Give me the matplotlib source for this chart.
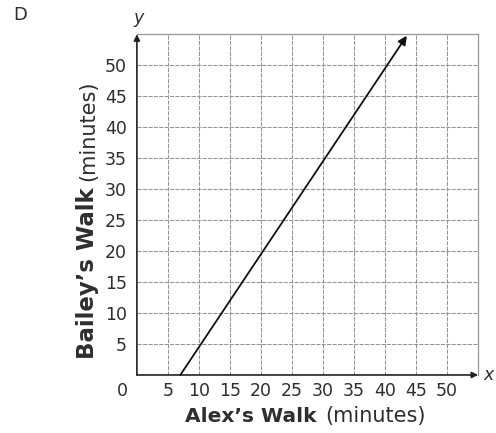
import matplotlib
matplotlib.use("Agg")
import matplotlib.pyplot as plt

# Data
line_x = [7, 43.5]          # Alex's walk (minutes)
line_y = [0, 54.75]         # Bailey's walk (minutes)
x_ticks = [5, 10, 15, 20, 25, 30, 35, 40, 45, 50]
y_ticks = [5, 10, 15, 20, 25, 30, 35, 40, 45, 50]
grid_steps = list(range(5, 55, 5))
axis_max = 55

plt.rcParams['font.family'] = 'DejaVu Sans'
text_col = '#2e2e2e'
grid_col = '#959595'

fig = plt.figure(figsize=(4.96, 4.33), dpi=100)
ax = fig.add_axes([0.276, 0.134, 0.688, 0.787])
ax.set_xlim(0, axis_max)
ax.set_ylim(0, axis_max)

# Grid
for v in grid_steps:
    ax.axvline(v, color=grid_col, lw=0.75, ls=(0, (4, 1.2)), zorder=1)
    ax.axhline(v, color=grid_col, lw=0.75, ls=(0, (4, 1.2)), zorder=1)

for side in ['left', 'bottom']:
    ax.spines[side].set_visible(False)
for side in ['top', 'right']:
    ax.spines[side].set_color(grid_col)
    ax.spines[side].set_linewidth(0.9)

# Axes with arrows
arrow_kw = dict(arrowstyle='-|>', color='#222222', lw=1.2,
                mutation_scale=9, shrinkA=0, shrinkB=0)
ax.annotate('', xy=(0, 1.0), xytext=(0, 0), xycoords='axes fraction',
            arrowprops=arrow_kw, zorder=3)
ax.annotate('', xy=(1.0, 0), xytext=(0, 0), xycoords='axes fraction',
            arrowprops=arrow_kw, zorder=3)

# The line
ax.annotate('', xy=(line_x[1], line_y[1]), xytext=(line_x[0], line_y[0]),
            xycoords='data', annotation_clip=False,
            arrowprops=dict(arrowstyle='-|>', color='#111111', lw=1.3,
                            mutation_scale=13, shrinkA=0, shrinkB=0), zorder=4)

# Ticks
ax.set_xticks(x_ticks)
ax.set_yticks(y_ticks)
ax.tick_params(length=0, labelsize=12.5, labelcolor=text_col)
ax.tick_params(axis='x', pad=5)
ax.tick_params(axis='y', pad=7)
ax.annotate('0', xy=(0, 0), xycoords='data', xytext=(-15, -16),
            textcoords='offset pixels', ha='center', va='center',
            fontsize=12.5, color=text_col, annotation_clip=False)

# Axis letters
ax.text(0.006, 1.047, 'y', transform=ax.transAxes, fontsize=12.5,
        style='italic', color=text_col, ha='center', va='center')
ax.text(1.015, 0.0, 'x', transform=ax.transAxes, fontsize=12.5,
        style='italic', color=text_col, ha='left', va='center')

# Option letter
fig.text(13 / 496, 1 - 15 / 433, 'D', fontsize=13, color=text_col,
         ha='left', va='center')

# Axis labels: bold part followed by normal part
xb = fig.text(185 / 496, 11 / 433, 'Alex\u2019s Walk', fontsize=14.5,
              fontweight='bold', color=text_col, ha='left', va='baseline')
yb = fig.text(94 / 496, 74 / 433, 'Bailey\u2019s Walk', fontsize=16.5,
              fontweight='bold', color=text_col, rotation=90,
              rotation_mode='anchor', ha='left', va='baseline')
fig.canvas.draw()
inv = fig.transFigure.inverted()
xbb = xb.get_window_extent()
ybb = yb.get_window_extent()
fig.text(inv.transform((xbb.x1 + 9, 0))[0], 11 / 433, '(minutes)',
         fontsize=15, color=text_col, ha='left', va='baseline')
fig.text(94 / 496, inv.transform((0, ybb.y1 + 6))[1], '(minutes)',
         fontsize=15, color=text_col, rotation=90, rotation_mode='anchor',
         ha='left', va='baseline')

fig.savefig('out.png', dpi=100, facecolor='white')
